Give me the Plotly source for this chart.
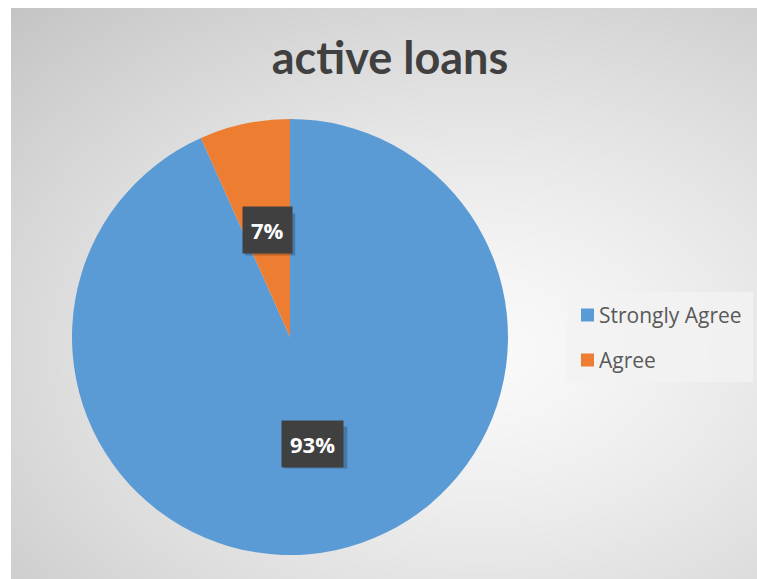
import base64, struct, zlib, math
import numpy as np
import plotly.graph_objects as go

# ---- data ----
categories = ["Strongly Agree", "Agree"]
values = [93.3, 6.7]
colors = ["#5B9BD5", "#ED7D31"]
title_text = "active loans"

W, H = 757, 579

# ---- background gradient (radial, Excel-like) ----
def png_gray(arr):
    h, w = arr.shape
    raw = b"".join(b"\x00" + arr[i].tobytes() for i in range(h))
    def chunk(t, d):
        c = struct.pack(">I", len(d)) + t + d
        return c + struct.pack(">I", zlib.crc32(t + d) & 0xffffffff)
    return (b"\x89PNG\r\n\x1a\n" + chunk(b"IHDR", struct.pack(">IIBBBBB", w, h, 8, 0, 0, 0, 0))
            + chunk(b"IDAT", zlib.compress(raw, 9)) + chunk(b"IEND", b""))

bx0, by0, bx1, by1 = 11, 8, W, H
gw, gh = bx1 - bx0, by1 - by0
yy, xx = np.mgrid[0:gh, 0:gw]
cx, cy = 480 - bx0, 350 - by0
t = np.sqrt(((xx - cx) / 600.0) ** 2 + ((yy - cy) / 420.0) ** 2)
t = np.clip(t, 0, 1.15) / 1.15
g = (250 - 55 * t ** 1.3).astype(np.uint8)
bg_uri = "data:image/png;base64," + base64.b64encode(png_gray(g)).decode()

# ---- pie geometry ----
pcx, pcy, R = 290, 337, 218
dom_x = [(pcx - R) / W, (pcx + R) / W]
dom_y = [1 - (pcy + R) / H, 1 - (pcy - R) / H]

fig = go.Figure()
fig.add_trace(go.Pie(
    labels=categories, values=values, sort=False, direction="clockwise", rotation=0,
    marker=dict(colors=colors, line=dict(width=0)),
    textinfo="none", showlegend=False, domain=dict(x=dom_x, y=dom_y),
))

shapes = []
annotations = []

# ---- data labels (dark boxes) at half radius along slice mid-angle ----
total = sum(values)
cum = 0.0
for v in values:
    mid = (cum + v / 2) / total * 2 * math.pi
    cum += v
    px = pcx + 0.5 * R * math.sin(mid)
    py = pcy - 0.5 * R * math.cos(mid)
    txt = f"{v / total * 100:.0f}%"
    # soft drop shadow behind the label box
    bw = 13 * (len(txt) - 1) + 37
    bh = 42
    sx, sy = px + 3, py + 4
    shapes.append(dict(type="rect", xref="paper", yref="paper",
                       x0=(sx - bw / 2) / W, x1=(sx + bw / 2) / W,
                       y0=1 - (sy + bh / 2) / H, y1=1 - (sy - bh / 2) / H,
                       fillcolor="rgba(0,0,0,0.22)", line=dict(width=0)))
    annotations.append(dict(x=px / W, y=1 - py / H, xref="paper", yref="paper",
                            xanchor="center", yanchor="middle",
                            text=txt, showarrow=False, bgcolor="#404040",
                            borderpad=8, font=dict(family="Open Sans", size=22, color="white",
                                                   weight="bold")))

# ---- legend (drawn manually for Excel-like spacing) ----
shapes.append(dict(type="rect", xref="paper", yref="paper", x0=567 / W, x1=753 / W,
                   y0=1 - 382 / H, y1=1 - 292 / H, fillcolor="rgba(242,242,242,0.85)",
                   line=dict(width=0), layer="below"))
leg_y = [315, 360]
for cat, col, ly in zip(categories, colors, leg_y):
    shapes.append(dict(type="rect", xref="paper", yref="paper", x0=581 / W, x1=594 / W,
                       y0=1 - (ly + 6.5) / H, y1=1 - (ly - 6.5) / H, fillcolor=col,
                       line=dict(width=0)))
    annotations.append(dict(x=597 / W, y=1 - ly / H, xref="paper", yref="paper",
                            xanchor="left", yanchor="middle", text=cat, showarrow=False,
                            font=dict(family="Open Sans", size=21, color="#595959")))

fig.update_layout(
    width=W, height=H, margin=dict(l=0, r=0, t=0, b=0),
    paper_bgcolor="white", plot_bgcolor="white",
    title=dict(text=title_text, x=390 / W, xanchor="center", y=1 - 58 / H, yanchor="middle",
               font=dict(family="Lato", size=45, color="#404040", weight="bold")),
    images=[dict(source=bg_uri, xref="paper", yref="paper", x=bx0 / W, y=1 - by0 / H,
                 sizex=gw / W, sizey=gh / H, sizing="stretch", xanchor="left", yanchor="top",
                 layer="below")],
    shapes=shapes, annotations=annotations,
)

fig.write_html("out.html")
